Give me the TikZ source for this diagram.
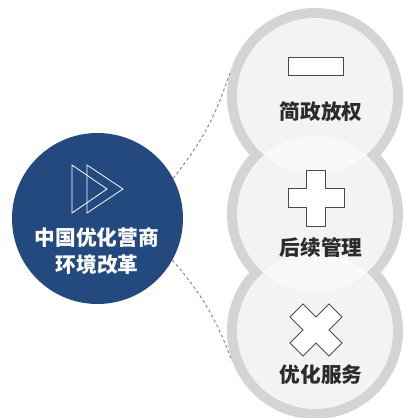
\documentclass[tikz,border=0pt]{standalone}
\usepackage{fontspec}
\newfontfamily\cjk{Noto Sans CJK SC}
\definecolor{hubblue}{HTML}{24497F}
\definecolor{ringgray}{HTML}{D4D4D4}
\definecolor{innergray}{HTML}{F3F3F3}
\definecolor{lensgray}{HTML}{F9F9F9}
\definecolor{labeldark}{HTML}{2B2B2B}
\definecolor{icondark}{HTML}{4A4A4A}
\definecolor{dashgray}{HTML}{8A8A8A}
\tikzset{
  ring/.style={circle, fill=ringgray, minimum size=132pt, inner sep=0pt},
  hubcircle/.style={circle, fill=hubblue, minimum size=128.25pt, inner sep=0pt},
  lbl/.style={font=\cjk\bfseries\fontsize{15.5pt}{20pt}\selectfont, text=labeldark, inner sep=0pt},
  hublbl/.style={font=\cjk\bfseries\fontsize{15.5pt}{20.25pt}\selectfont, text=white, align=center, inner sep=0pt},
  connector/.style={draw=dashgray, line width=0.75pt, dash pattern=on 2.2pt off 2pt},
  iconline/.style={draw=icondark, fill=white, line width=0.7pt, line join=miter},
  tri/.style={draw=white, line width=0.6pt, line join=miter}
}
\begin{document}
\begin{tikzpicture}[x=0.75pt, y=-0.75pt]
\useasboundingbox (0,0) rectangle (405,418);
% right circles
\node[ring] (topc) at (315,96) {};
\node[ring] (midc) at (315,214) {};
\node[ring] (botc) at (315,331) {};
\fill[innergray] (topc.center) circle (58.5pt);
\fill[innergray] (midc.center) circle (58.5pt);
\fill[innergray] (botc.center) circle (58.5pt);
\begin{scope}
  \clip (topc.center) circle (58.5pt);
  \fill[lensgray] (midc.center) circle (58.5pt);
\end{scope}
\begin{scope}
  \clip (midc.center) circle (58.5pt);
  \fill[lensgray] (botc.center) circle (58.5pt);
\end{scope}
% hub
\node[hubcircle] (hub) at (97.5,218.5) {};
% connectors
\draw[connector] (hub.28) to[bend right=10] (topc.165);
\draw[connector] (hub.-29) to[bend left=10] (botc.200);
% double triangle icon
\draw[tri] (72,165) -- (72,213) -- (107,189) -- cycle;
\draw[tri] (87,165) -- (87,213) -- (123,189) -- cycle;
\node[hublbl] (hubtext1) at (97,238) {中国优化营商};
\node[hublbl] (hubtext2) at (97,265) {环境改革};
% icons
\draw[iconline] (288,57) rectangle (343,75);
\begin{scope}[shift={(316,198)}]
  \draw[iconline] (-9.5,-28) -- (9.5,-28) -- (9.5,-9.5) -- (28,-9.5) -- (28,9.5) -- (9.5,9.5) -- (9.5,28) -- (-9.5,28) -- (-9.5,9.5) -- (-28,9.5) -- (-28,-9.5) -- (-9.5,-9.5) -- cycle;
\end{scope}
\begin{scope}[shift={(316,330)}, rotate=45]
  \draw[iconline] (-9.2,-27.6) -- (9.2,-27.6) -- (9.2,-9.2) -- (27.6,-9.2) -- (27.6,9.2) -- (9.2,9.2) -- (9.2,27.6) -- (-9.2,27.6) -- (-9.2,9.2) -- (-27.6,9.2) -- (-27.6,-9.2) -- (-9.2,-9.2) -- cycle;
\end{scope}
% labels
\node[lbl] (l1) at (321,112) {简政放权};
\node[lbl] (l2) at (321,248) {后续管理};
\node[lbl] (l3) at (321,375) {优化服务};
\end{tikzpicture}
\end{document}
